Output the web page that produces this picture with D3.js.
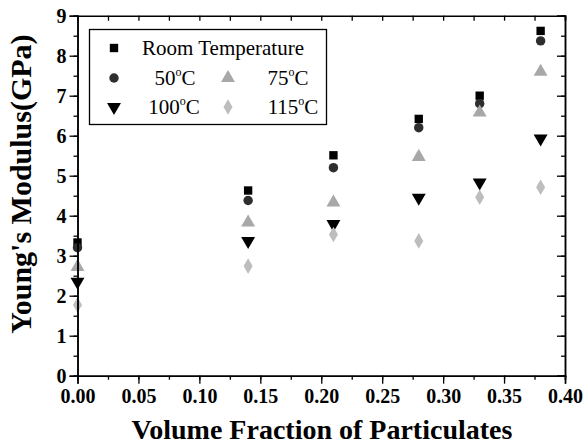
<!DOCTYPE html>
<html>
<head>
<meta charset="utf-8">
<title>Young's Modulus</title>
<script src="https://d3js.org/d3.v7.min.js"></script>
<style>
  body { margin: 0; background: #fff; }
  svg text { font-family: "Liberation Serif", "Times New Roman", serif !important; }
</style>
</head>
<body>
<div id="chart"></div>
<script>
"use strict"

// volume fraction of particulates
var fracoes = [0.00, 0.14, 0.21, 0.28, 0.33, 0.38];

// Young's modulus (GPa) per temperature
var tempAmbiente = [3.33, 4.63, 5.51, 6.42, 7.00, 8.62];
var t50  = [3.20, 4.38, 5.20, 6.20, 6.80, 8.37];
var t75  = [2.72, 3.83, 4.33, 5.47, 6.58, 7.60];
var t100 = [2.35, 3.37, 3.79, 4.45, 4.83, 5.93];
var t115 = [1.77, 2.74, 3.53, 3.37, 4.46, 4.71];

var ticksX = [0.00, 0.05, 0.10, 0.15, 0.20, 0.25, 0.30, 0.35, 0.40];
var ticksY = [0, 1, 2, 3, 4, 5, 6, 7, 8, 9];

var series = [
  {nome: "Room Temperature", valores: tempAmbiente, simbolo: d3.symbolSquare, cor: "#000"},
  {nome: "50", valores: t50, simbolo: d3.symbolCircle, cor: "#2e2e2e"},
  {nome: "75", valores: t75, simbolo: d3.symbolTriangle, cor: "#a8a8a8"},
  {nome: "100", valores: t100, simbolo: "down", cor: "#000"},
  {nome: "115", valores: t115, simbolo: d3.symbolDiamond, cor: "#bdbdbd"}
];

var larguraSVG = 587, alturaSVG = 444;
var margin = {top: 15.7, right: 22, bottom: 68.3, left: 77.5};
var larguraVis = larguraSVG - margin.left - margin.right,
    alturaVis = alturaSVG - margin.top - margin.bottom;

var x = d3.scaleLinear().domain([0, 0.4]).range([0, larguraVis]);
var y = d3.scaleLinear().domain([0, 9]).range([alturaVis, 0]);

var svg = d3.select("#chart").append("svg")
  .attr("width", larguraSVG).attr("height", alturaSVG);

var grafico = svg.append("g")
  .attr("transform", "translate(" + margin.left + "," + margin.top + ")");

// simbolos
function desenhaSimbolo(sel, simbolo, tam) {
  if (simbolo === "down") {
    sel.attr("d", d3.symbol().type(d3.symbolTriangle).size(tam * 1.2)())
       .attr("transform", function() {
         return d3.select(this).attr("data-t") + " rotate(180)";
       });
  } else {
    sel.attr("d", d3.symbol().type(simbolo).size(simbolo === d3.symbolTriangle ? tam * 1.2 : tam)());
  }
}

series.forEach(function(s) {
  grafico.selectAll(null)
    .data(fracoes.map(function(f, i) { return {x: f, y: s.valores[i]}; }))
    .enter().append("path")
      .attr("fill", s.cor)
      .attr("data-t", function(d) { return "translate(" + x(d.x) + "," + y(d.y) + ")"; })
      .attr("transform", function(d) { return "translate(" + x(d.x) + "," + y(d.y) + ")"; })
      .call(desenhaSimbolo, s.simbolo, 70);
});

// eixos
var minorX = d3.range(0, 0.4001, 0.025);
var minorY = d3.range(0, 9.001, 0.5);

grafico.append("g")
  .attr("transform", "translate(0," + alturaVis + ")")
  .call(d3.axisBottom(x).tickValues(minorX).tickSize(4).tickFormat(""));
grafico.append("g")
  .attr("transform", "translate(0," + alturaVis + ")")
  .call(d3.axisBottom(x).tickValues(ticksX).tickSize(8).tickPadding(5).tickFormat(d3.format(".2f")));

grafico.append("g")
  .call(d3.axisLeft(y).tickValues(minorY).tickSize(4).tickFormat(""));
grafico.append("g")
  .call(d3.axisLeft(y).tickValues(ticksY).tickSize(8).tickPadding(3).tickFormat(d3.format("d")));

grafico.append("g")
  .call(d3.axisTop(x).tickValues(minorX).tickSize(-5).tickFormat(""));
grafico.append("g")
  .attr("transform", "translate(" + larguraVis + ",0)")
  .call(d3.axisRight(y).tickValues(minorY).tickSize(-4).tickFormat(""));
grafico.append("g")
  .attr("transform", "translate(" + larguraVis + ",0)")
  .call(d3.axisRight(y).tickValues(ticksY).tickSize(-8).tickFormat(""));

grafico.selectAll(".domain").attr("stroke", "#000").attr("stroke-width", 1.5);
grafico.selectAll(".tick line").attr("stroke", "#000").attr("stroke-width", 1.3);
grafico.selectAll(".tick text")
  .attr("font-weight", "bold")
  .attr("font-size", 20)
  .attr("fill", "#000");

// titulos
svg.append("text")
  .attr("transform", "translate(31,184) rotate(-90)")
  .attr("text-anchor", "middle")
  .attr("font-weight", "bold")
  .attr("font-size", 30)
  .text("Young's Modulus(GPa)");

svg.append("text")
  .attr("x", 322)
  .attr("y", 439)
  .attr("text-anchor", "middle")
  .attr("font-weight", "bold")
  .attr("font-size", 28)
  .text("Volume Fraction of Particulates");

// legenda
var legenda = svg.append("g");
legenda.append("rect")
  .attr("x", 89.5).attr("y", 29.5).attr("width", 237).attr("height", 95)
  .attr("fill", "#fff").attr("stroke", "#000").attr("stroke-width", 1.3);

var itens = [
  {s: series[0], mx: 114, tx: 223, ty: 48, graus: false},
  {s: series[1], mx: 114, tx: 175, ty: 78, graus: true},
  {s: series[2], mx: 228, tx: 288, ty: 78, graus: true},
  {s: series[3], mx: 114, tx: 174, ty: 107, graus: true},
  {s: series[4], mx: 228, tx: 293, ty: 107, graus: true}
];

itens.forEach(function(it) {
  legenda.append("path")
    .attr("fill", it.s.cor)
    .attr("data-t", "translate(" + it.mx + "," + it.ty + ")")
    .attr("transform", "translate(" + it.mx + "," + it.ty + ")")
    .call(desenhaSimbolo, it.s.simbolo, 70);
  var t = legenda.append("text")
    .attr("x", it.tx).attr("y", it.ty + 7)
    .attr("text-anchor", "middle")
    .attr("font-size", 21);
  if (it.graus) {
    t.append("tspan").text(it.s.nome);
    t.append("tspan").attr("font-size", 12).attr("dy", -9).text("o");
    t.append("tspan").attr("dy", 9).text("C");
  } else {
    t.text(it.s.nome);
  }
});
</script>
</body>
</html>
